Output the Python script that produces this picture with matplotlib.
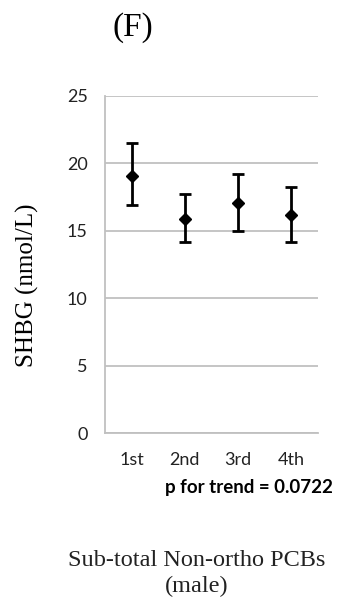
import matplotlib
matplotlib.use("Agg")
import matplotlib.pyplot as plt
import numpy as np

categories = ["1st", "2nd", "3rd", "4th"]
means = [19.05, 15.85, 17.05, 16.15]
upper = [21.5, 17.7, 19.25, 18.25]
lower = [16.95, 14.15, 14.95, 14.2]
yticks = [0, 5, 10, 15, 20, 25]

W, H = 339, 600
fig = plt.figure(figsize=(W / 100, H / 100), dpi=100)
ax = fig.add_axes([105 / W, 1 - 433 / H, (318 - 105) / W, (433 - 96) / H])

x = np.arange(len(categories))
m = np.array(means)
yerr = np.vstack([m - np.array(lower), np.array(upper) - m])
ax.errorbar(x, m, yerr=yerr, fmt="D", color="black", markersize=6.5,
            elinewidth=2, capsize=4.5, capthick=2, zorder=3)

ax.set_xlim(-0.5, 3.5)
ax.set_ylim(0, 25)
ax.set_yticks(yticks)
ax.set_xticks(x)
ax.set_xticklabels(categories)
ax.yaxis.grid(True, color="#c0c0c0", linewidth=1.3)
ax.set_axisbelow(True)
for s in ["top", "right"]:
    ax.spines[s].set_visible(False)
for s in ["left", "bottom"]:
    ax.spines[s].set_color("#c0c0c0")
    ax.spines[s].set_linewidth(1.3)
ax.tick_params(axis="both", length=0, labelsize=13, colors="#222222")
ax.tick_params(axis="y", pad=12.5)
ax.tick_params(axis="x", pad=14)
for lab in ax.get_xticklabels() + ax.get_yticklabels():
    lab.set_fontfamily("Lato")

fig.text(133 / W, 1 - 28 / H, "(F)", ha="center", va="center",
         fontsize=24, family="Liberation Serif")
fig.text(27 / W, 1 - 285 / H, "SHBG (nmol/L)", ha="center", va="center",
         rotation=90, fontsize=18, family="Liberation Serif")
fig.text(333 / W, 1 - 487 / H, "p for trend = 0.0722", ha="right", va="center",
         fontsize=13.5, fontweight="bold", family="Lato")
fig.text(197 / W, 1 - 560 / H, "Sub-total Non-ortho PCBs", ha="center",
         va="center", fontsize=17.5, family="Liberation Serif", color="#222222")
fig.text(197 / W, 1 - 586 / H, "(male)", ha="center",
         va="center", fontsize=17.5, family="Liberation Serif", color="#222222")

fig.savefig("out.png", dpi=100)
